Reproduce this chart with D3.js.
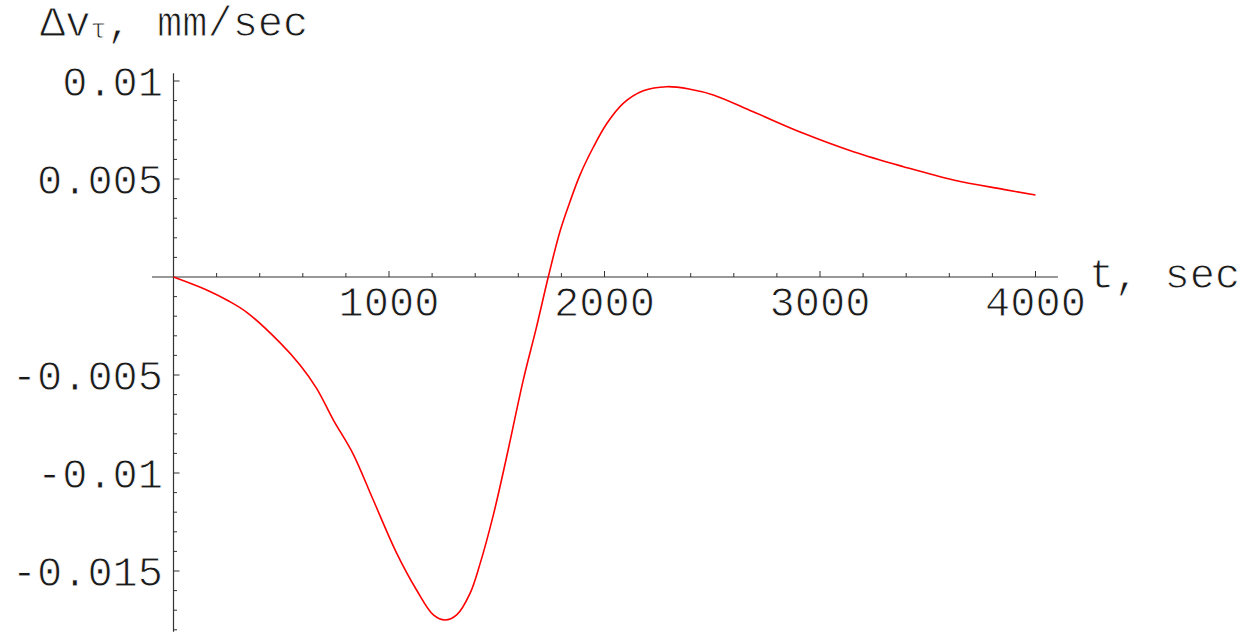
<html>
<script src="https://d3js.org/d3.v7.min.js"></script>
<body style="margin:0;background:#fff">
<div id="chart"></div>
<script>
// time in seconds, velocity change in mm/sec
var times = [0, 154, 254, 340, 494, 587, 664, 742, 832, 927, 1036, 1128, 1206, 1260, 1314,
  1376, 1422, 1484, 1546, 1623, 1685, 1739, 1794, 1840, 1886, 1948, 2010, 2087, 2180,
  2289, 2397, 2505, 2690, 2923, 3155, 3387, 3619, 3851, 4000];
var dv = [0, -0.00066, -0.00121, -0.0018, -0.00335, -0.00449, -0.00568, -0.0073, -0.009,
  -0.01138, -0.0141, -0.01597, -0.01724, -0.0175, -0.01724, -0.01614, -0.01465, -0.01215,
  -0.00917, -0.00526, -0.00253, 0, 0.00235, 0.00385, 0.0052, 0.00662, 0.00782, 0.00886,
  0.0095, 0.00971, 0.00958, 0.00929, 0.00843, 0.00733, 0.00639, 0.00563, 0.00495, 0.00447, 0.00418];

var xTicks = [1000, 2000, 3000, 4000];
var yTicks = [-0.015, -0.01, -0.005, 0.005, 0.01];
var yTickLabels = ["-0.015", "-0.01", "-0.005", "0.005", "0.01"];

var width = 1255;
var height = 634;
var font = "'Liberation Mono', 'DejaVu Sans Mono', monospace";
var fontSize = 42;

var data = times.map((t, i) => ({t: t, v: dv[i]}));

/* Scales */
var xScale = d3.scaleLinear().domain([0, 4000]).range([173.5, 1035.5]);
var yScale = d3.scaleLinear().domain([0, 0.01]).range([277, 81]);

var svg = d3.select("#chart").append("svg")
  .attr("width", width)
  .attr("height", height)
  .style("font-family", font);

// thin the glyphs a little: a white stroke painted over the fill
function lightText(sel) {
  sel.attr("fill", "#1a1a1a")
    .attr("stroke", "#fff")
    .attr("stroke-width", 0.9);
}

/* Axes */
var axisColor = "#333";
svg.append("line")
  .attr("x1", xScale(-100)).attr("x2", xScale(4104))
  .attr("y1", yScale(0)).attr("y2", yScale(0))
  .attr("stroke", axisColor).attr("stroke-width", 1.2);
svg.append("line")
  .attr("x1", xScale(0)).attr("x2", xScale(0))
  .attr("y1", yScale(0.0104)).attr("y2", yScale(-0.0181))
  .attr("stroke", axisColor).attr("stroke-width", 1.2);

// x ticks, minor every 200
var xMinor = d3.range(200, 4001, 200);
svg.append("g").selectAll("line")
  .data(xMinor).enter()
  .append("line")
  .attr("x1", d => xScale(d)).attr("x2", d => xScale(d))
  .attr("y1", yScale(0))
  .attr("y2", d => yScale(0) - (d % 1000 === 0 ? 6 : 4))
  .attr("stroke", axisColor).attr("stroke-width", 1);

// y ticks, minor every 0.001
var yMinor = d3.range(-18, 11).filter(k => k !== 0);
svg.append("g").selectAll("line")
  .data(yMinor).enter()
  .append("line")
  .attr("x1", xScale(0))
  .attr("x2", d => xScale(0) + (d % 5 === 0 ? 6 : 3.5))
  .attr("y1", d => yScale(d / 1000)).attr("y2", d => yScale(d / 1000))
  .attr("stroke", axisColor).attr("stroke-width", 1);

/* Tick labels */
svg.append("g").selectAll("text")
  .data(xTicks).enter()
  .append("text")
  .attr("x", d => xScale(d))
  .attr("y", yScale(0) + 39)
  .attr("text-anchor", "middle")
  .attr("font-size", fontSize)
  .call(lightText)
  .text(d => d);

svg.append("g").selectAll("text")
  .data(yTicks).enter()
  .append("text")
  .attr("x", 163)
  .attr("y", d => yScale(d))
  .attr("dy", "0.36em")
  .attr("text-anchor", "end")
  .attr("font-size", fontSize)
  .call(lightText)
  .text((d, i) => yTickLabels[i]);

/* Axis titles */
var title = svg.append("text")
  .attr("x", 40).attr("y", 36)
  .attr("font-size", fontSize)
  .call(lightText);
title.append("tspan").text("\u0394v");
title.append("tspan").attr("font-size", 27).attr("dy", 2).text("\u03c4");
title.append("tspan").attr("dy", -2).attr("xml:space", "preserve").text(", mm/sec");

svg.append("text")
  .attr("x", 1089).attr("y", 288)
  .attr("font-size", fontSize)
  .call(lightText)
  .text("t, sec");

/* Curve */
var line = d3.line()
  .x(d => xScale(d.t))
  .y(d => yScale(d.v))
  .curve(d3.curveCatmullRom.alpha(0.5));

svg.append("path")
  .datum(data)
  .attr("d", line)
  .attr("fill", "none")
  .attr("stroke", "#ff0000")
  .attr("stroke-width", 1.6);
</script>
</body>
</html>
